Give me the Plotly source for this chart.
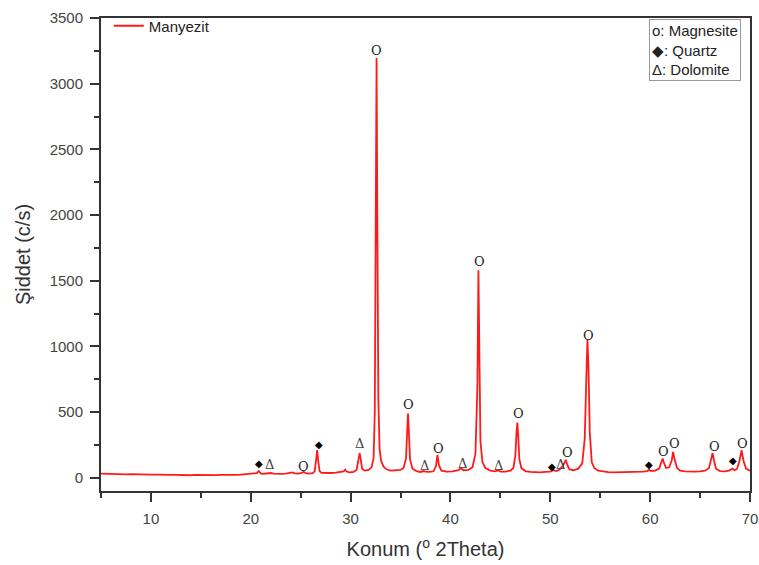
import plotly.graph_objects as go

# ---- data (2Theta, intensity c/s) ----
two_theta = [
    5.0, 5.5, 6.0, 6.5, 7.0, 7.5, 8.0, 8.5, 9.0, 9.5, 10.0, 10.5, 11.0, 11.5, 12.0, 12.5,
    13.0, 13.5, 14.0, 14.5, 15.0, 15.5, 16.0, 16.5, 17.0, 17.5, 18.0, 18.5, 19.0, 19.5,
    20.0, 20.4, 20.6, 20.8, 21.0, 21.2, 21.5, 21.8, 22.0, 22.3, 22.7, 23.0, 23.5, 24.0,
    24.2, 24.4, 24.8, 25.1, 25.3, 25.5, 25.8, 26.2, 26.4, 26.55, 26.65, 26.75, 26.9, 27.1,
    27.5, 28.0, 28.5, 29.0, 29.3, 29.45, 29.6, 29.9, 30.3, 30.6, 30.8, 30.9, 31.0, 31.15,
    31.4, 31.8, 32.1, 32.3, 32.42, 32.52, 32.6, 32.68, 32.78, 32.9, 33.05, 33.3, 33.6, 34.0,
    34.5, 35.0, 35.3, 35.55, 35.68, 35.75, 35.83, 35.95, 36.2, 36.6, 37.0, 37.3, 37.5, 37.9,
    38.3, 38.55, 38.7, 38.85, 39.1, 39.6, 40.2, 40.8, 41.05, 41.3, 41.8, 42.2, 42.5, 42.7,
    42.8, 42.9, 43.0, 43.2, 43.5, 44.0, 44.5, 44.8, 45.0, 45.5, 46.0, 46.3, 46.5, 46.62,
    46.7, 46.78, 46.9, 47.1, 47.5, 48.0, 48.5, 49.0, 49.5, 50.0, 50.3, 50.6, 50.9, 51.2,
    51.45, 51.55, 51.7, 51.9, 52.3, 52.8, 53.2, 53.45, 53.62, 53.72, 53.82, 53.95, 54.15,
    54.4, 54.8, 55.3, 55.8, 56.3, 56.8, 57.3, 57.8, 58.3, 58.8, 59.3, 59.7, 59.9, 60.1,
    60.5, 60.9, 61.1, 61.25, 61.4, 61.6, 61.9, 62.15, 62.3, 62.45, 62.7, 63.0, 63.5, 64.0,
    64.5, 65.0, 65.5, 65.9, 66.1, 66.25, 66.4, 66.6, 67.0, 67.5, 67.9, 68.1, 68.25, 68.45,
    68.7, 68.95, 69.15, 69.35, 69.6, 70.0,
]
intensity = [
    32, 30, 31, 28, 29, 27, 28, 26, 25, 26, 24, 25, 23, 24, 22, 23,
    21, 22, 20, 22, 21, 20, 22, 21, 23, 22, 24, 23, 25, 27,
    28, 30, 36, 52, 34, 30, 33, 38, 37, 32, 30, 31, 33, 36,
    42, 34, 33, 38, 46, 36, 33, 36, 50, 140, 212, 130, 50, 38,
    36, 37, 40, 44, 50, 62, 48, 42, 46, 60, 140, 188, 150, 70,
    55, 60, 80, 150, 500, 1800, 3195, 1900, 600, 220, 130, 85, 65, 55,
    55, 60, 75, 150, 380, 490, 360, 140, 70, 52, 45, 52, 48, 45,
    50, 90, 175, 95, 55, 48, 50, 58, 75, 58, 60, 80, 180, 700,
    1580, 800, 280, 120, 75, 55, 50, 58, 48, 48, 55, 75, 170, 350,
    420, 330, 140, 75, 52, 45, 42, 42, 45, 48, 58, 52, 62, 85,
    120, 138, 100, 65, 58, 70, 110, 300, 800, 1050, 850, 350, 120,
    75, 55, 47, 44, 42, 43, 42, 44, 43, 46, 48, 52, 62, 52,
    55, 70, 110, 148, 110, 75, 80, 130, 198, 140, 75, 55, 50, 48,
    48, 50, 55, 75, 140, 188, 130, 70, 52, 50, 55, 62, 70, 58,
    68, 130, 210, 130, 70, 55,
]

# phase labels above peaks
label_x = [20.8, 21.9, 25.3, 26.8, 30.9, 32.6, 35.8, 37.4, 38.8, 41.2, 42.9, 44.8,
           46.8, 50.2, 51.0, 51.7, 53.8, 59.9, 61.3, 62.4, 66.4, 68.3, 69.2]
label_y = [110, 100, 85, 255, 260, 3250, 555, 95, 220, 110, 1650, 95,
           490, 90, 105, 190, 1080, 100, 200, 260, 235, 130, 265]
label_sym = ["Q", "D", "M", "Q", "D", "M", "M", "D", "M", "D", "M", "D",
             "M", "Q", "D", "M", "M", "Q", "M", "M", "M", "Q", "M"]

x_ticks = [10, 20, 30, 40, 50, 60, 70]
y_ticks = [0, 500, 1000, 1500, 2000, 2500, 3000, 3500]

glyph = {"M": "O", "Q": "◆", "D": "Δ"}
glyph_size = {"M": 13, "Q": 10, "D": 13}
glyph_col = {"M": "#222222", "Q": "#000000", "D": "#444444"}

FONT = "Liberation Sans, Arial"

fig = go.Figure()
fig.add_trace(go.Scatter(
    x=two_theta, y=intensity, mode="lines", name="Manyezit",
    line=dict(color="#ff1a1a", width=1.8),
))

for lx, ly, ls in zip(label_x, label_y, label_sym):
    fig.add_annotation(
        x=lx, y=ly, text=glyph[ls], showarrow=False, xref="x", yref="y",
        font=dict(family="DejaVu Serif", size=glyph_size[ls], color=glyph_col[ls]),
    )

fig.add_annotation(
    xref="paper", yref="paper", x=0.986, y=0.998, xanchor="right", yanchor="top",
    text="o: Magnesite<br>◆: Quartz<br>Δ: Dolomite", align="left", showarrow=False,
    font=dict(family=FONT, size=15, color="#222222"),
    bordercolor="#999999", borderwidth=1, borderpad=2, bgcolor="white",
)

axis_common = dict(
    showline=True, linecolor="#333333", linewidth=2, mirror=True,
    ticks="outside", ticklen=9, tickwidth=1.8, tickcolor="#333333",
    showgrid=False, zeroline=False, ticklabelstandoff=4, automargin=False,
    tickfont=dict(family=FONT, size=15, color="#444444"),
)

fig.update_xaxes(
    range=[5, 70], tickvals=x_ticks,
    minor=dict(ticks="outside", ticklen=5, tickwidth=1.8, tickcolor="#333333", dtick=5, tick0=0),
    title=dict(text="Konum (<sup>o</sup> 2Theta)", font=dict(family=FONT, size=20, color="#333333"), standoff=16),
    **axis_common,
)
fig.update_yaxes(
    range=[-100, 3500], tickvals=y_ticks,
    minor=dict(ticks="outside", ticklen=5, tickwidth=1.8, tickcolor="#333333", dtick=250, tick0=0),
    title=dict(text="Şiddet (c/s)", font=dict(family=FONT, size=20, color="#333333"), standoff=14),
    **axis_common,
)

fig.update_layout(
    width=759, height=565,
    margin=dict(l=101, r=9, t=13, b=74),
    plot_bgcolor="white", paper_bgcolor="white",
    showlegend=True,
    legend=dict(x=0.012, y=1.018, xanchor="left", yanchor="top", bgcolor="rgba(0,0,0,0)",
                font=dict(family=FONT, size=15, color="#222222")),
)

fig.write_html("out.html")
